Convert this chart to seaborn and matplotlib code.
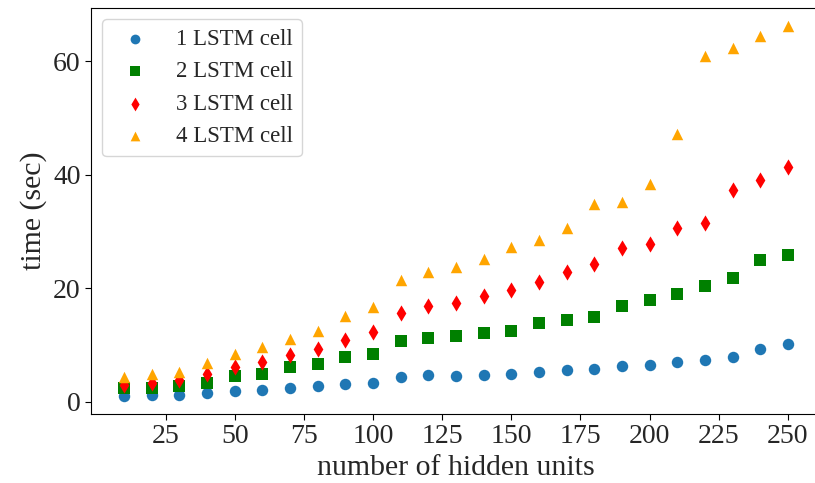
import matplotlib
matplotlib.use("Agg")
import matplotlib.pyplot as plt
import seaborn as sns

# hidden units on the x axis
hidden_units = [10, 20, 30, 40, 50, 60, 70, 80, 90, 100, 110, 120, 130,
                140, 150, 160, 170, 180, 190, 200, 210, 220, 230, 240, 250]

# training time (sec)
one_cell = [1.06, 1.18, 1.24, 1.47, 1.82, 2.0, 2.35, 2.82, 3.18, 3.35, 4.36, 4.65, 4.5,
            4.65, 4.88, 5.23, 5.53, 5.82, 6.24, 6.41, 7.0, 7.41, 7.94, 9.3, 10.1]
two_cells = [2.41, 2.47, 2.82, 3.35, 4.59, 4.94, 6.06, 6.65, 7.82, 8.35, 10.65, 11.24, 11.6,
             12.06, 12.5, 13.76, 14.3, 14.9, 16.8, 17.9, 18.9, 20.3, 21.8, 24.9, 25.9]
three_cells = [2.9, 3.3, 3.76, 4.94, 6.12, 7.0, 8.24, 9.35, 10.9, 12.2, 15.6, 16.8, 17.4,
               18.6, 19.7, 21.1, 22.9, 24.3, 27.1, 27.7, 30.5, 31.4, 37.2, 39.1, 41.4]
four_cells = [4.36, 4.88, 5.23, 6.82, 8.35, 9.7, 11.06, 12.4, 15.05, 16.6, 21.4, 22.8, 23.7,
              25.2, 27.2, 28.5, 30.5, 34.9, 35.2, 38.3, 47.1, 60.9, 62.3, 64.4, 66.1]

labels = ["1 LSTM cell", "2 LSTM cell", "3 LSTM cell", "4 LSTM cell"]

sns.set_style("ticks")
plt.rcParams["font.family"] = ["Liberation Serif", "DejaVu Serif"]
plt.rcParams["axes.edgecolor"] = "black"

fig, ax = plt.subplots(figsize=(8.15, 4.83), dpi=100)
ax.set_position([91 / 815, 69 / 483, 730 / 815, 406 / 483])

series = [one_cell, two_cells, three_cells, four_cells]
colors = ["#1f77b4", "green", "red", "orange"]
markers = ["o", "s", "d", "^"]
for vals, lab, c, m in zip(series, labels, colors, markers):
    sns.scatterplot(x=hidden_units, y=vals, ax=ax, color=c, marker=m,
                    s=68, linewidth=0, label=lab)

ax.set_xticks([25, 50, 75, 100, 125, 150, 175, 200, 225, 250])
ax.set_yticks([0, 20, 40, 60])
ax.tick_params(labelsize=20, length=4, color="black")
ax.set_xlabel("number of hidden units", fontsize=21.5)
ax.set_ylabel("time (sec)", fontsize=21.5)

ax.legend(loc="upper left", fontsize=16.5, frameon=True, fancybox=True,
          edgecolor="0.8", framealpha=0.8, scatterpoints=1, markerscale=0.85)

fig.savefig("out.png", dpi=100)
